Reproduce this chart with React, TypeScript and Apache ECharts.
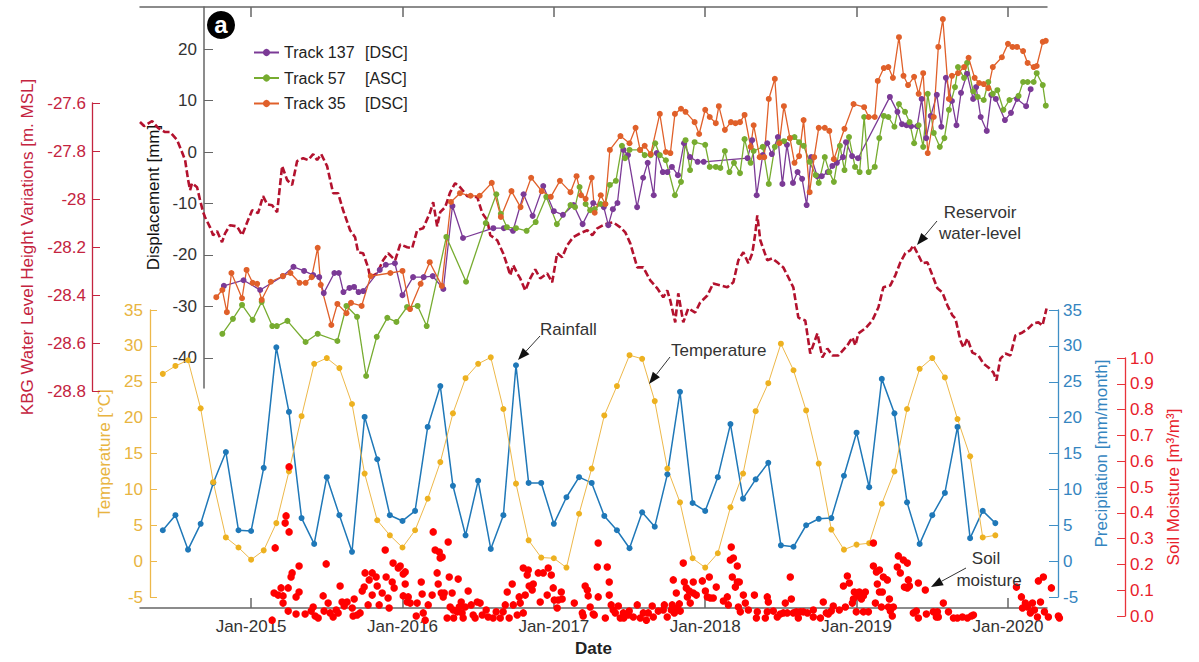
import React, { useEffect, useRef } from "react";
import * as echarts from "echarts";

const FONT = "'Liberation Sans', Arial, Helvetica, sans-serif";

const X_MIN = 2014.266;
const X_MAX = 2020.258;
const YEAR_TICKS = [2015, 2016, 2017, 2018, 2019, 2020];
const DISP_TICKS = [-40, -30, -20, -10, 0, 10, 20];

const MONTHS = [
  "2014-06", "2014-07", "2014-08", "2014-09", "2014-10", "2014-11", "2014-12",
  "2015-01", "2015-02", "2015-03", "2015-04", "2015-05", "2015-06", "2015-07", "2015-08", "2015-09", "2015-10", "2015-11", "2015-12",
  "2016-01", "2016-02", "2016-03", "2016-04", "2016-05", "2016-06", "2016-07", "2016-08", "2016-09", "2016-10", "2016-11", "2016-12",
  "2017-01", "2017-02", "2017-03", "2017-04", "2017-05", "2017-06", "2017-07", "2017-08", "2017-09", "2017-10", "2017-11", "2017-12",
  "2018-01", "2018-02", "2018-03", "2018-04", "2018-05", "2018-06", "2018-07", "2018-08", "2018-09", "2018-10", "2018-11", "2018-12",
  "2019-01", "2019-02", "2019-03", "2019-04", "2019-05", "2019-06", "2019-07", "2019-08", "2019-09", "2019-10", "2019-11", "2019-12",
];

const TEMPERATURE = [
  26.1, 27.2, 28.0, 21.3, 11.0, 3.3, 1.9,
  0.2, 1.5, 5.3, 12.5, 20.2, 27.5, 28.3, 26.9, 21.9, 12.2, 5.7, 3.6,
  1.9, 4.3, 8.7, 13.8, 20.6, 25.5, 27.5, 28.4, 21.2, 10.8, 2.9, 0.5,
  0.4, -0.9, 6.6, 12.9, 20.3, 24.4, 28.7, 28.2, 22.3, 12.9, 8.2, 0.4,
  -0.9, 1.1, 7.5, 12.2, 20.9, 24.8, 30.3, 26.6, 21.0, 13.6, 4.4, 1.6,
  2.3, 2.5, 8.0, 12.5, 21.2, 26.8, 28.3, 25.6, 19.8, 14.6, 3.3, 3.6,
];

const PRECIPITATION = [
  4.3, 6.4, 1.6, 5.2, 10.9, 15.2, 4.3,
  4.2, 13.0, 29.8, 20.8, 6.0, 2.4, 11.7, 6.4, 1.3, 20.1, 14.2, 6.4,
  5.6, 7.0, 18.7, 24.4, 10.5, 3.6, 11.2, 1.7, 6.4, 27.3, 10.9, 10.9,
  5.2, 8.9, 11.7, 10.9, 6.3, 4.3, 1.8, 6.8, 4.8, 12.1, 23.6, 8.1,
  7.0, 11.7, 19.1, 8.7, 11.4, 13.7, 2.2, 2.0, 5.0, 5.9, 6.0, 11.9,
  17.9, 10.3, 25.4, 20.6, 8.2, 2.4, 6.4, 9.5, 18.7, 3.2, 7.0, 5.3,
];

const TRACK_137 = [
  [2014.82, -26.0], [2014.95, -24.9], [2015.06, -26.8], [2015.21, -24.1], [2015.28, -22.3], [2015.35, -23.1], [2015.41, -23.9], [2015.45, -24.3], [2015.48, -27.4], [2015.55, -23.5], [2015.58, -23.5], [2015.61, -27.2], [2015.65, -26.4], [2015.68, -26.2], [2015.71, -27.2], [2015.74, -27.0], [2015.85, -22.9], [2015.89, -21.9], [2015.95, -21.6], [2016.00, -27.8], [2016.07, -24.3], [2016.14, -24.3], [2016.20, -24.1], [2016.27, -26.6], [2016.33, -10.5], [2016.40, -16.7], [2016.60, -14.8], [2016.67, -14.8], [2016.73, -15.3], [2016.80, -8.2], [2016.86, -12.4], [2016.93, -6.6], [2017.00, -11.5], [2017.06, -12.2], [2017.13, -10.3], [2017.19, -14.0], [2017.26, -9.9], [2017.33, -10.7], [2017.36, -14.2], [2017.39, -11.1], [2017.42, -9.9], [2017.46, 0.4], [2017.49, -0.6], [2017.55, -10.7], [2017.59, -5.0], [2017.62, -2.1], [2017.66, -8.4], [2017.68, -0.2], [2017.72, -3.9], [2017.75, -3.9], [2017.78, -2.9], [2017.82, -4.5], [2017.86, 1.7], [2017.90, -1.0], [2017.95, -1.9], [2017.99, -1.9], [2018.28, -1.2], [2018.31, 2.3], [2018.34, -8.4], [2018.38, -0.6], [2018.41, 1.7], [2018.44, -0.4], [2018.48, 2.9], [2018.51, -6.2], [2018.54, 1.4], [2018.58, -6.0], [2018.61, -3.9], [2018.64, -5.2], [2018.67, -10.3], [2018.70, -1.0], [2018.74, -4.7], [2018.77, -4.7], [2018.81, -3.9], [2018.84, -2.7], [2018.87, -2.1], [2018.91, -1.0], [2018.93, 1.9], [2018.97, -0.8], [2019.01, -1.2], [2019.22, 10.7], [2019.27, 7.8], [2019.30, 5.4], [2019.33, 5.2], [2019.36, 5.0], [2019.40, 5.0], [2019.43, 10.3], [2019.46, 2.7], [2019.49, 7.0], [2019.53, 11.1], [2019.56, 4.9], [2019.59, 14.4], [2019.63, 9.9], [2019.66, 5.2], [2019.69, 11.5], [2019.73, 15.2], [2019.77, 10.3], [2019.79, 12.6], [2019.82, 6.8], [2019.86, 4.1], [2019.89, 11.1], [2019.92, 10.3], [2019.98, 6.2], [2020.02, 7.6], [2020.06, 10.3], [2020.12, 8.9], [2020.15, 12.2],
];

const TRACK_57 = [
  [2014.81, -35.3], [2014.88, -32.4], [2014.94, -29.7], [2015.01, -32.6], [2015.07, -29.1], [2015.14, -33.8], [2015.17, -33.8], [2015.24, -32.8], [2015.36, -36.9], [2015.44, -35.3], [2015.57, -36.7], [2015.63, -29.9], [2015.70, -32.0], [2015.76, -43.5], [2015.83, -35.9], [2015.90, -32.2], [2015.96, -33.0], [2016.03, -30.1], [2016.10, -29.9], [2016.16, -33.8], [2016.29, -16.5], [2016.42, -25.2], [2016.55, -13.8], [2016.62, -8.2], [2016.65, -12.0], [2016.69, -14.6], [2016.75, -14.8], [2016.82, -15.3], [2016.88, -13.6], [2016.95, -8.7], [2017.02, -14.0], [2017.11, -10.3], [2017.14, -10.7], [2017.17, -6.8], [2017.21, -10.1], [2017.24, -11.3], [2017.27, -11.1], [2017.31, -10.1], [2017.34, -10.1], [2017.37, -6.4], [2017.41, -5.6], [2017.45, 1.2], [2017.47, -1.2], [2017.50, 0.4], [2017.57, 0.4], [2017.60, -0.6], [2017.64, -0.6], [2017.67, 1.7], [2017.70, -0.6], [2017.74, -1.6], [2017.80, -8.4], [2017.84, -5.8], [2017.87, 2.3], [2017.90, -3.5], [2017.93, 1.9], [2018.00, 1.4], [2018.03, -2.9], [2018.07, -2.9], [2018.10, -3.1], [2018.13, 0.2], [2018.16, -3.9], [2018.19, -2.1], [2018.23, -4.1], [2018.26, 2.5], [2018.30, -2.1], [2018.32, 0.2], [2018.38, 1.0], [2018.42, -6.2], [2018.46, 1.0], [2018.49, 1.9], [2018.52, 2.1], [2018.56, 2.7], [2018.59, 2.9], [2018.62, 1.9], [2018.65, 1.2], [2018.69, -1.9], [2018.73, -4.5], [2018.75, -6.0], [2018.79, -1.0], [2018.82, -3.9], [2018.85, -5.8], [2018.89, 1.2], [2018.92, -3.5], [2018.95, 2.9], [2018.99, -2.9], [2019.02, -3.9], [2019.05, 6.8], [2019.08, -3.9], [2019.12, -2.9], [2019.15, 2.7], [2019.18, 7.0], [2019.21, 6.8], [2019.25, 4.9], [2019.28, 9.3], [2019.32, 7.8], [2019.35, 5.8], [2019.38, 1.7], [2019.41, 5.2], [2019.44, 1.0], [2019.47, 11.3], [2019.51, 3.7], [2019.55, 1.0], [2019.58, 2.7], [2019.61, 8.2], [2019.65, 12.6], [2019.67, 16.5], [2019.71, 14.4], [2019.73, 17.3], [2019.77, 11.8], [2019.80, 10.7], [2019.84, 10.1], [2019.87, 13.6], [2019.90, 11.3], [2019.93, 12.0], [2019.97, 8.2], [2020.01, 10.1], [2020.07, 10.9], [2020.10, 13.6], [2020.13, 13.6], [2020.17, 13.6], [2020.19, 15.3], [2020.23, 13.0], [2020.25, 9.0],
];

const TRACK_35 = [
  [2014.77, -28.2], [2014.81, -26.8], [2014.84, -31.1], [2014.87, -23.5], [2014.94, -28.4], [2014.97, -22.9], [2015.01, -25.4], [2015.04, -25.6], [2015.07, -28.7], [2015.13, -25.2], [2015.21, -24.1], [2015.26, -23.5], [2015.32, -25.4], [2015.36, -25.4], [2015.40, -24.3], [2015.44, -18.6], [2015.46, -25.8], [2015.53, -33.6], [2015.57, -29.5], [2015.63, -31.3], [2015.66, -29.3], [2015.73, -29.9], [2015.79, -24.1], [2015.92, -23.5], [2016.00, -23.1], [2016.05, -30.5], [2016.12, -25.6], [2016.18, -21.4], [2016.26, -26.0], [2016.32, -9.7], [2016.38, -8.0], [2016.45, -8.5], [2016.51, -8.5], [2016.59, -6.0], [2016.65, -12.6], [2016.72, -7.6], [2016.78, -10.7], [2016.85, -5.0], [2016.92, -7.6], [2016.98, -8.7], [2017.04, -5.6], [2017.11, -7.8], [2017.15, -4.7], [2017.18, -8.4], [2017.21, -9.1], [2017.25, -5.0], [2017.27, -11.8], [2017.31, -8.4], [2017.34, -10.1], [2017.37, 0.4], [2017.44, 3.1], [2017.50, 1.7], [2017.54, 4.7], [2017.57, 0.4], [2017.60, 1.2], [2017.64, -0.4], [2017.70, 7.4], [2017.74, 0.0], [2017.77, -0.2], [2017.80, 7.4], [2017.84, 8.4], [2017.87, 7.8], [2017.93, 5.8], [2017.96, 3.5], [2018.00, 8.2], [2018.03, 6.8], [2018.07, 5.6], [2018.09, 8.9], [2018.13, 4.3], [2018.17, 5.8], [2018.20, 5.6], [2018.23, 5.8], [2018.26, 7.2], [2018.30, 1.0], [2018.32, 5.2], [2018.36, -1.0], [2018.39, -1.0], [2018.42, 10.3], [2018.46, 14.2], [2018.49, 1.7], [2018.52, 8.9], [2018.56, 2.7], [2018.59, -2.1], [2018.62, -0.8], [2018.65, 6.2], [2018.69, -7.8], [2018.72, -1.0], [2018.75, 4.7], [2018.79, 4.7], [2018.82, 4.1], [2018.85, -1.4], [2018.92, 4.5], [2018.98, 9.3], [2019.05, 8.7], [2019.08, 6.8], [2019.12, 6.8], [2019.14, 13.8], [2019.18, 16.3], [2019.21, 16.5], [2019.24, 14.4], [2019.28, 22.3], [2019.31, 14.8], [2019.34, 13.0], [2019.38, 14.6], [2019.41, 11.3], [2019.44, 15.3], [2019.47, -0.2], [2019.51, 6.8], [2019.54, 20.4], [2019.57, 25.8], [2019.61, 10.3], [2019.63, 14.8], [2019.67, 15.3], [2019.71, 16.5], [2019.74, 18.3], [2019.78, 14.4], [2019.81, 13.4], [2019.84, 13.2], [2019.87, 12.4], [2019.90, 16.5], [2019.96, 18.4], [2020.00, 21.0], [2020.03, 20.4], [2020.06, 20.4], [2020.10, 19.6], [2020.13, 17.3], [2020.17, 16.5], [2020.19, 16.7], [2020.23, 21.4], [2020.25, 21.6],
];

const WATER_LEVEL = [
  [2014.266, -27.679], [2014.293, -27.696], [2014.313, -27.688], [2014.346, -27.675], [2014.385, -27.704], [2014.432, -27.721], [2014.465, -27.721], [2014.511, -27.754], [2014.544, -27.805], [2014.564, -27.838], [2014.584, -27.921], [2014.597, -27.963], [2014.610, -27.934], [2014.643, -27.951], [2014.663, -28.005], [2014.683, -28.055], [2014.696, -28.076], [2014.729, -28.118], [2014.749, -28.151], [2014.775, -28.134], [2014.808, -28.180], [2014.828, -28.143], [2014.861, -28.109], [2014.907, -28.114], [2014.941, -28.151], [2014.974, -28.097], [2015.007, -28.047], [2015.046, -28.059], [2015.079, -27.988], [2015.106, -28.022], [2015.139, -28.026], [2015.172, -28.055], [2015.205, -27.863], [2015.238, -27.921], [2015.271, -27.942], [2015.304, -27.842], [2015.344, -27.830], [2015.377, -27.838], [2015.410, -27.813], [2015.436, -27.838], [2015.463, -27.813], [2015.502, -27.863], [2015.542, -27.976], [2015.575, -27.976], [2015.608, -28.047], [2015.654, -28.130], [2015.687, -28.159], [2015.707, -28.222], [2015.740, -28.226], [2015.773, -28.285], [2015.786, -28.326], [2015.833, -28.310], [2015.872, -28.255], [2015.905, -28.226], [2015.952, -28.255], [2015.985, -28.189], [2016.031, -28.201], [2016.064, -28.205], [2016.097, -28.130], [2016.137, -28.122], [2016.183, -28.055], [2016.203, -28.013], [2016.229, -28.114], [2016.249, -28.055], [2016.282, -28.034], [2016.315, -27.972], [2016.348, -27.934], [2016.381, -27.951], [2016.428, -27.988], [2016.494, -27.992], [2016.527, -28.059], [2016.560, -28.088], [2016.580, -28.151], [2016.626, -28.172], [2016.665, -28.226], [2016.692, -28.276], [2016.712, -28.318], [2016.732, -28.276], [2016.758, -28.310], [2016.778, -28.331], [2016.811, -28.381], [2016.844, -28.331], [2016.877, -28.293], [2016.910, -28.331], [2016.956, -28.310], [2016.989, -28.347], [2017.022, -28.226], [2017.055, -28.243], [2017.088, -28.193], [2017.128, -28.159], [2017.174, -28.143], [2017.221, -28.130], [2017.254, -28.151], [2017.287, -28.122], [2017.326, -28.109], [2017.359, -28.101], [2017.392, -28.097], [2017.439, -28.118], [2017.472, -28.139], [2017.505, -28.185], [2017.551, -28.285], [2017.591, -28.285], [2017.637, -28.339], [2017.683, -28.372], [2017.723, -28.410], [2017.749, -28.381], [2017.769, -28.422], [2017.802, -28.514], [2017.822, -28.393], [2017.855, -28.514], [2017.888, -28.456], [2017.934, -28.473], [2017.967, -28.431], [2018.014, -28.402], [2018.053, -28.352], [2018.100, -28.360], [2018.146, -28.368], [2018.186, -28.347], [2018.219, -28.255], [2018.252, -28.222], [2018.285, -28.268], [2018.311, -28.226], [2018.331, -28.143], [2018.344, -28.068], [2018.364, -28.172], [2018.410, -28.255], [2018.443, -28.247], [2018.476, -28.264], [2018.516, -28.285], [2018.549, -28.326], [2018.582, -28.368], [2018.615, -28.493], [2018.628, -28.498], [2018.661, -28.506], [2018.694, -28.644], [2018.741, -28.560], [2018.774, -28.660], [2018.807, -28.623], [2018.840, -28.652], [2018.880, -28.652], [2018.939, -28.610], [2018.972, -28.577], [2018.992, -28.610], [2019.012, -28.560], [2019.058, -28.539], [2019.104, -28.506], [2019.144, -28.452], [2019.177, -28.368], [2019.223, -28.360], [2019.256, -28.318], [2019.289, -28.264], [2019.322, -28.226], [2019.355, -28.214], [2019.375, -28.193], [2019.402, -28.226], [2019.435, -28.268], [2019.468, -28.264], [2019.488, -28.297], [2019.534, -28.372], [2019.567, -28.389], [2019.600, -28.443], [2019.633, -28.485], [2019.653, -28.498], [2019.686, -28.589], [2019.706, -28.619], [2019.732, -28.581], [2019.765, -28.640], [2019.805, -28.652], [2019.838, -28.686], [2019.871, -28.702], [2019.904, -28.723], [2019.924, -28.756], [2019.950, -28.665], [2019.983, -28.644], [2020.016, -28.652], [2020.049, -28.569], [2020.096, -28.556], [2020.135, -28.539], [2020.168, -28.518], [2020.201, -28.514], [2020.228, -28.527], [2020.255, -28.456],
];

const SOIL_MOISTURE = [
  [2015.139, -0.016], [2015.159, 0.264], [2015.152, 0.089], [2015.178, 0.081], [2015.198, 0.109], [2015.211, 0.078], [2015.211, 0.050], [2015.225, 0.360], [2015.231, 0.388], [2015.251, 0.578], [2015.251, 0.326], [2015.245, 0.109], [2015.245, 0.019], [2015.264, 0.151], [2015.271, 0.167], [2015.297, 0.074], [2015.297, 0.008], [2015.317, 0.194], [2015.317, 0.093], [2015.357, 0.008], [2015.397, 0.019], [2015.410, 0.035], [2015.423, 0.000], [2015.443, -0.008], [2015.476, 0.078], [2015.496, 0.202], [2015.482, 0.019], [2015.509, 0.050], [2015.522, 0.012], [2015.542, -0.004], [2015.562, 0.023], [2015.575, 0.012], [2015.588, 0.116], [2015.601, 0.054], [2015.615, 0.039], [2015.634, 0.054], [2015.668, 0.031], [2015.681, 0.066], [2015.674, 0.000], [2015.701, 0.004], [2015.720, 0.012], [2015.734, 0.097], [2015.747, 0.112], [2015.753, 0.167], [2015.773, 0.043], [2015.780, 0.140], [2015.800, 0.167], [2015.800, 0.081], [2015.826, 0.151], [2015.833, 0.116], [2015.846, 0.043], [2015.866, 0.089], [2015.886, 0.256], [2015.892, 0.151], [2015.905, 0.070], [2015.912, 0.031], [2015.932, 0.132], [2015.938, 0.205], [2015.945, 0.109], [2015.972, 0.186],
  [2015.985, 0.194], [2016.005, 0.163], [2016.018, 0.171], [2016.018, 0.124], [2016.005, 0.078], [2016.031, 0.054], [2016.038, 0.074], [2016.051, 0.050], [2016.091, 0.000], [2016.097, 0.050], [2016.124, 0.132], [2016.130, 0.085], [2016.137, 0.012], [2016.150, -0.016], [2016.170, 0.043], [2016.196, 0.081], [2016.203, 0.326], [2016.216, 0.256], [2016.243, 0.248], [2016.249, 0.225], [2016.262, 0.229], [2016.229, 0.167], [2016.236, 0.124], [2016.256, 0.089], [2016.269, 0.074], [2016.276, 0.089], [2016.295, -0.008], [2016.302, 0.287], [2016.309, 0.151], [2016.315, 0.035], [2016.328, 0.089], [2016.335, 0.023], [2016.338, -0.008], [2016.361, 0.016], [2016.368, 0.143], [2016.375, 0.035], [2016.388, 0.054], [2016.394, 0.012], [2016.401, -0.008], [2016.414, 0.035], [2016.434, 0.097], [2016.454, 0.043], [2016.467, 0.004], [2016.480, -0.008], [2016.494, 0.054], [2016.513, 0.050], [2016.527, 0.004], [2016.553, 0.023], [2016.566, -0.004], [2016.599, -0.008], [2016.619, 0.016], [2016.646, -0.008], [2016.665, 0.016], [2016.679, 0.043], [2016.692, 0.093], [2016.705, -0.008], [2016.725, 0.124], [2016.732, 0.043], [2016.758, 0.004], [2016.771, 0.074], [2016.778, 0.050], [2016.798, 0.012], [2016.798, 0.186], [2016.811, 0.081], [2016.824, 0.159], [2016.831, 0.178], [2016.837, 0.116], [2016.857, 0.101], [2016.864, 0.124], [2016.897, 0.167], [2016.910, 0.054], [2016.930, 0.167], [2016.956, 0.081], [2016.963, 0.186], [2016.983, 0.159], [2016.996, 0.109],
  [2017.003, 0.062], [2017.022, 0.031], [2017.029, 0.062], [2017.049, 0.093], [2017.055, 0.066], [2017.135, 0.050], [2017.188, 0.012], [2017.194, 0.000], [2017.207, 0.116], [2017.221, 0.101], [2017.227, 0.078], [2017.240, 0.035], [2017.260, 0.008], [2017.267, 0.004], [2017.287, 0.190], [2017.293, 0.074], [2017.293, 0.283], [2017.340, -0.008], [2017.353, 0.190], [2017.366, 0.132], [2017.366, 0.081], [2017.379, 0.043], [2017.392, 0.023], [2017.406, 0.012], [2017.426, 0.039], [2017.439, -0.008], [2017.459, 0.012], [2017.462, -0.008], [2017.492, 0.004], [2017.498, 0.019], [2017.525, -0.004], [2017.551, 0.043], [2017.571, -0.008], [2017.591, 0.012], [2017.611, -0.016], [2017.624, 0.012], [2017.650, 0.039], [2017.657, -0.004], [2017.690, 0.019], [2017.723, 0.023], [2017.730, 0.043], [2017.749, -0.004], [2017.776, 0.023], [2017.782, 0.043], [2017.789, 0.140], [2017.796, 0.012], [2017.809, 0.089], [2017.815, 0.031], [2017.829, 0.047], [2017.835, 0.019], [2017.855, 0.205], [2017.862, 0.132], [2017.875, 0.109], [2017.882, 0.074], [2017.895, 0.097], [2017.901, 0.050], [2017.921, 0.132], [2017.921, 0.089], [2017.941, 0.081], [2017.981, 0.136],
  [2018.001, 0.097], [2018.014, 0.074], [2018.027, 0.151], [2018.034, 0.070], [2018.053, 0.070], [2018.073, 0.112], [2018.120, 0.058], [2018.146, 0.074], [2018.153, 0.043], [2018.166, 0.217], [2018.172, 0.267], [2018.179, 0.151], [2018.186, 0.225], [2018.199, 0.112], [2018.212, 0.132], [2018.212, 0.194], [2018.225, 0.132], [2018.219, 0.035], [2018.232, 0.016], [2018.252, 0.081], [2018.265, 0.050], [2018.285, 0.023], [2018.325, 0.081], [2018.338, -0.008], [2018.344, 0.016], [2018.397, -0.008], [2018.410, 0.016], [2018.410, 0.074], [2018.417, 0.054], [2018.450, 0.019], [2018.476, -0.004], [2018.496, 0.008], [2018.516, 0.012], [2018.529, 0.050], [2018.542, 0.012], [2018.562, 0.151], [2018.569, 0.066], [2018.582, 0.012], [2018.602, 0.016], [2018.615, -0.008], [2018.628, 0.016], [2018.648, 0.016], [2018.675, 0.012], [2018.714, 0.023], [2018.714, -0.004], [2018.761, -0.008], [2018.780, 0.054], [2018.800, 0.012], [2018.813, 0.008], [2018.833, 0.019], [2018.846, 0.039], [2018.886, 0.023], [2018.913, 0.116], [2018.926, 0.035], [2018.939, 0.155], [2018.952, 0.128], [2018.972, 0.050], [2018.979, 0.066], [2018.985, 0.093], [2018.998, 0.016],
  [2019.005, 0.078], [2019.018, 0.093], [2019.032, 0.066], [2019.045, 0.016], [2019.045, 0.078], [2019.058, 0.093], [2019.078, 0.016], [2019.111, 0.283], [2019.111, 0.194], [2019.124, 0.050], [2019.131, 0.171], [2019.137, 0.124], [2019.151, 0.178], [2019.151, 0.093], [2019.164, 0.035], [2019.170, 0.093], [2019.177, 0.151], [2019.203, 0.140], [2019.210, 0.035], [2019.217, 0.066], [2019.223, 0.019], [2019.236, 0.000], [2019.243, 0.035], [2019.269, 0.190], [2019.276, 0.233], [2019.289, 0.167], [2019.309, 0.217], [2019.316, 0.112], [2019.335, 0.205], [2019.335, 0.109], [2019.342, 0.140], [2019.349, 0.116], [2019.375, 0.012], [2019.395, 0.019], [2019.408, 0.128], [2019.408, -0.008], [2019.454, 0.101], [2019.461, 0.008], [2019.507, 0.016], [2019.527, -0.004], [2019.534, 0.016], [2019.540, -0.004], [2019.573, 0.050], [2019.607, 0.016], [2019.640, -0.008], [2019.666, -0.008], [2019.699, -0.004], [2019.732, -0.008], [2019.759, 0.000], [2019.772, 0.004],
  [2020.056, 0.112], [2020.089, 0.074], [2020.096, 0.031], [2020.115, 0.050], [2020.129, 0.035], [2020.148, 0.012], [2020.162, 0.050], [2020.175, 0.023], [2020.195, -0.004], [2020.201, 0.136], [2020.215, 0.054], [2020.234, 0.151], [2020.241, 0.016], [2020.267, -0.004], [2020.287, 0.109], [2020.333, 0.000], [2020.340, -0.008],
];

const monthToYear = (m: string) => {
  const [y, mo] = m.split("-").map(Number);
  return y + (mo - 1) / 12;
};

const arrow = (x1: number, y1: number, x2: number, y2: number) => {
  const dx = x2 - x1;
  const dy = y2 - y1;
  const len = Math.hypot(dx, dy);
  const ux = dx / len;
  const uy = dy / len;
  const L = 12;
  const W = 4.5;
  const bx = x2 - ux * L;
  const by = y2 - uy * L;
  return [
    { type: "line", shape: { x1, y1, x2: bx, y2: by }, style: { stroke: "#333", lineWidth: 1 }, z: 100 },
    {
      type: "polygon",
      shape: { points: [[x2, y2], [bx - uy * W, by + ux * W], [bx + uy * W, by - ux * W]] },
      style: { fill: "#111" },
      z: 100,
    },
  ];
};

const label = (text: string, x: number, y: number, align: string) => ({
  type: "text",
  x,
  y,
  z: 100,
  style: {
    text,
    fill: "#333",
    fontSize: 17,
    fontFamily: FONT,
    align,
    verticalAlign: "middle",
    textAlign: align,
    textVerticalAlign: "middle",
  },
});

export default function App() {
  const ref = useRef<HTMLDivElement>(null);

  useEffect(() => {
    if (!ref.current) return;
    const chart = echarts.init(ref.current, undefined, { renderer: "svg" });

    const hiddenX = (gridIndex: number) => ({
      type: "value",
      gridIndex,
      min: X_MIN,
      max: X_MAX,
      show: false,
      splitLine: { show: false },
    });

    const axisColor = "#666";
    const labelFont = { fontSize: 17, fontFamily: FONT };

    const trackSeries = (name: string, data: number[][], color: string) => ({
      name,
      type: "line",
      xAxisIndex: 2,
      yAxisIndex: 1,
      data,
      symbol: "circle",
      symbolSize: 6,
      showSymbol: true,
      itemStyle: { color },
      lineStyle: { color, width: 1.3 },
      z: 5,
    });

    const tempData = MONTHS.map((m, i) => [monthToYear(m), TEMPERATURE[i]]);
    const precData = MONTHS.map((m, i) => [monthToYear(m), PRECIPITATION[i]]);

    const option: any = {
      animation: false,
      backgroundColor: "#fff",
      textStyle: { fontFamily: FONT },
      grid: [
        { left: 140, width: 907, top: 7, height: 613 },
        { left: 140, width: 907, top: 7, height: 381 },
        { left: 140, width: 907, top: 103, height: 288 },
        { left: 140, width: 907, top: 310, height: 287 },
        { left: 140, width: 907, top: 358, height: 258 },
      ],
      legend: {
        orient: "vertical",
        left: 248,
        top: 38,
        itemWidth: 25,
        itemHeight: 9,
        itemGap: 6.5,
        data: ["Track 137 [DSC]", "Track 57 [ASC]", "Track 35 [DSC]"],
        formatter: (name: string) => {
          const i = name.indexOf("[");
          return `{a|${name.slice(0, i).trim()}}{b|${name.slice(i)}}`;
        },
        textStyle: {
          color: "#222",
          fontSize: 16,
          fontFamily: FONT,
          lineHeight: 19,
          rich: {
            a: { width: 81, fontSize: 16, fontFamily: FONT, color: "#222" },
            b: { fontSize: 16, fontFamily: FONT, color: "#222" },
          },
        },
      },
      xAxis: [
        {
          type: "value",
          gridIndex: 0,
          position: "bottom",
          min: X_MIN,
          max: X_MAX,
          axisLine: { onZero: false, lineStyle: { color: axisColor, width: 1.5 } },
          axisTick: { inside: true, length: 10, customValues: YEAR_TICKS, lineStyle: { color: axisColor, width: 1.5 } },
          axisLabel: {
            customValues: YEAR_TICKS,
            formatter: (v: number) => "Jan-" + Math.round(v),
            color: "#333",
            margin: 10,
            ...labelFont,
          },
          splitLine: { show: false },
          name: "Date",
          nameLocation: "middle",
          nameGap: 30,
          nameTextStyle: { fontWeight: "bold", fontSize: 17, color: "#222", fontFamily: FONT },
        },
        {
          type: "value",
          gridIndex: 0,
          position: "top",
          min: X_MIN,
          max: X_MAX,
          axisLine: { onZero: false, lineStyle: { color: axisColor, width: 1.5 } },
          axisTick: { inside: true, length: 10, customValues: YEAR_TICKS, lineStyle: { color: axisColor, width: 1.5 } },
          axisLabel: { show: false },
          splitLine: { show: false },
        },
        hiddenX(1),
        hiddenX(2),
        hiddenX(3),
        hiddenX(4),
      ],
      yAxis: [
        { type: "value", gridIndex: 0, min: 0, max: 1, show: false, splitLine: { show: false } },
        {
          type: "value",
          gridIndex: 1,
          position: "left",
          offset: -64,
          min: -45.83,
          max: 28.16,
          axisLine: { show: true, onZero: false, lineStyle: { color: axisColor, width: 1.5 } },
          axisTick: { show: true, inside: true, length: 9, customValues: DISP_TICKS, lineStyle: { color: axisColor } },
          axisLabel: { customValues: DISP_TICKS, color: "#333", margin: 7, ...labelFont },
          splitLine: { show: false },
          name: "Displacement [mm]",
          nameLocation: "middle",
          nameGap: 30,
          nameTextStyle: { color: "#111", fontSize: 17, fontFamily: FONT },
        },
        {
          type: "value",
          gridIndex: 2,
          position: "left",
          offset: 48,
          min: -28.8,
          max: -27.6,
          interval: 0.2,
          axisLine: { show: true, onZero: false, lineStyle: { color: "#C4243F", width: 1.3 } },
          axisTick: { show: true, inside: true, length: 8, lineStyle: { color: "#C4243F" } },
          axisLabel: {
            color: "#C4243F",
            margin: 6,
            formatter: (v: number) => String(Number(v.toFixed(1))),
            ...labelFont,
          },
          splitLine: { show: false },
          name: "KBG Water Level Height Variations [m. MSL]",
          nameLocation: "middle",
          nameGap: 49,
          nameTextStyle: { color: "#C4243F", fontSize: 17, fontFamily: FONT },
        },
        {
          type: "value",
          gridIndex: 3,
          position: "left",
          offset: -10,
          min: -5,
          max: 35,
          interval: 5,
          axisLine: { show: true, onZero: false, lineStyle: { color: "#EDB84A", width: 1.3 } },
          axisTick: { show: true, inside: true, length: 7, lineStyle: { color: "#EDB84A" } },
          axisLabel: { color: "#E8B440", margin: 7, ...labelFont },
          splitLine: { show: false },
          name: "Temperature [°C]",
          nameLocation: "middle",
          nameGap: 25,
          nameTextStyle: { color: "#E8B440", fontSize: 17, fontFamily: FONT },
        },
        {
          type: "value",
          gridIndex: 3,
          position: "right",
          offset: 11,
          min: -5,
          max: 35,
          interval: 5,
          axisLine: { show: true, onZero: false, lineStyle: { color: "#3F8FC6", width: 1.3 } },
          axisTick: { show: true, inside: true, length: 9, lineStyle: { color: "#3F8FC6" } },
          axisLabel: { color: "#3585C0", margin: 5, ...labelFont },
          splitLine: { show: false },
          name: "Precipitation [mm/month]",
          nameLocation: "middle",
          nameGap: 23,
          nameTextStyle: { color: "#3585C0", fontSize: 17, fontFamily: FONT },
        },
        {
          type: "value",
          gridIndex: 4,
          position: "right",
          offset: 78,
          min: 0,
          max: 1,
          interval: 0.1,
          axisLine: { show: true, onZero: false, lineStyle: { color: "#E8333A", width: 1.3 } },
          axisTick: { show: true, inside: true, length: 8, lineStyle: { color: "#E8333A" } },
          axisLabel: { color: "#E8212B", margin: 5, formatter: (v: number) => v.toFixed(1), ...labelFont },
          splitLine: { show: false },
          name: "Soil Moisture [m³/m³]",
          nameLocation: "middle",
          nameGap: 40,
          nameTextStyle: { color: "#E8212B", fontSize: 17, fontFamily: FONT },
        },
      ],
      series: [
        {
          name: "Reservoir water-level",
          type: "line",
          xAxisIndex: 3,
          yAxisIndex: 2,
          data: WATER_LEVEL,
          showSymbol: false,
          symbol: "none",
          lineStyle: { color: "#B3122E", width: 2.6, type: [7, 3] },
          z: 3,
        },
        trackSeries("Track 137 [DSC]", TRACK_137, "#7B3A96"),
        trackSeries("Track 57 [ASC]", TRACK_57, "#77AC30"),
        trackSeries("Track 35 [DSC]", TRACK_35, "#E0602A"),
        {
          name: "Precipitation",
          type: "line",
          xAxisIndex: 4,
          yAxisIndex: 4,
          data: precData,
          symbol: "circle",
          symbolSize: 6,
          itemStyle: { color: "#1F78B8" },
          lineStyle: { color: "#1F78B8", width: 1.5 },
          z: 4,
        },
        {
          name: "Temperature",
          type: "line",
          xAxisIndex: 4,
          yAxisIndex: 3,
          data: tempData,
          symbol: "circle",
          symbolSize: 6,
          itemStyle: { color: "#EDB120" },
          lineStyle: { color: "#EDB84A", width: 1 },
          z: 4,
        },
        {
          name: "Soil moisture",
          type: "scatter",
          xAxisIndex: 5,
          yAxisIndex: 5,
          data: SOIL_MOISTURE,
          symbol: "circle",
          symbolSize: 7.5,
          clip: false,
          itemStyle: { color: "#FF0000", opacity: 1 },
          z: 6,
        },
      ],
      graphic: [
        { type: "circle", shape: { cx: 221, cy: 25, r: 14 }, style: { fill: "#000" }, z: 100 },
        {
          type: "text",
          x: 221,
          y: 24,
          z: 101,
          style: {
            text: "a",
            fill: "#fff",
            fontSize: 24,
            fontWeight: "bold",
            fontFamily: FONT,
            align: "center",
            verticalAlign: "middle",
            textAlign: "center",
            textVerticalAlign: "middle",
          },
        },
        label("Rainfall", 540, 329, "left"),
        ...arrow(540, 336, 518, 360),
        label("Temperature", 671, 350, "left"),
        ...arrow(670, 357, 649, 384),
        label("Reservoir", 980, 212, "center"),
        label("water-level", 980, 233, "center"),
        ...arrow(937, 221, 917, 245),
        label("Soil", 986, 558, "center"),
        label("moisture", 989, 580, "center"),
        ...arrow(966, 568, 931, 587),
      ],
    };

    chart.setOption(option);
    return () => chart.dispose();
  }, []);

  return (
    <div
      ref={ref}
      style={{ position: "absolute", left: 0, top: 0, width: 1199, height: 662, background: "#fff" }}
    />
  );
}
